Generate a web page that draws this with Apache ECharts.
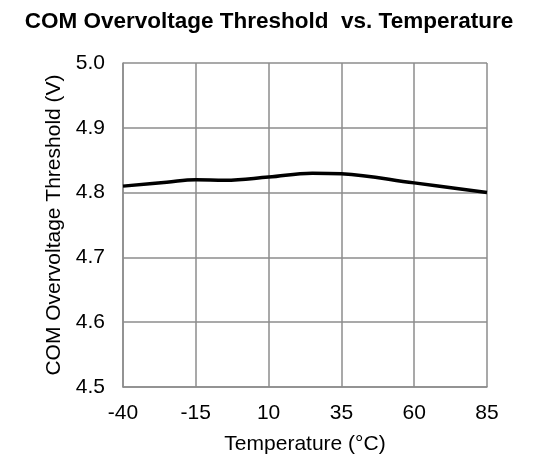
<!DOCTYPE html>
<html>
<head>
<meta charset="utf-8">
<script src="https://cdn.jsdelivr.net/npm/echarts@6/dist/echarts.min.js"></script>
<style>
  html, body { margin: 0; padding: 0; background: #fff; }
  #chart { width: 545px; height: 461px; }
</style>
</head>
<body>
<div id="chart"></div>
<script>
// Temperature (°C) and threshold (V)
const temps = [-40, -25, -15, -5, 10, 25, 35, 60, 85]
const threshold = [4.810, 4.816, 4.820, 4.819, 4.824, 4.830, 4.829, 4.815, 4.800]
const titleText = "COM Overvoltage Threshold  vs. Temperature"
const xName = "Temperature (°C)"
const yName = "COM Overvoltage Threshold (V)"

const chart = echarts.init(document.getElementById("chart"))
const font = "Liberation Sans, Arial, sans-serif"
const gridColor = "#8c8c8c"

chart.setOption({
  animation: false,
  title: {
    text: titleText,
    left: 264,
    textAlign: "center",
    top: 5,
    textStyle: { fontFamily: font, fontSize: 22.5, fontWeight: "bold", color: "#000" },
  },
  grid: { left: 123, right: 58, top: 63, bottom: 74 },
  xAxis: {
    type: "value",
    min: -40,
    max: 85,
    interval: 25,
    name: xName,
    nameLocation: "middle",
    nameGap: 47,
    nameTextStyle: { fontFamily: font, fontSize: 21, color: "#000" },
    axisLine: { show: true, onZero: false, lineStyle: { color: gridColor, width: 1.5 } },
    axisTick: { show: false },
    axisLabel: { fontFamily: font, fontSize: 21, color: "#000", margin: 16 },
    splitLine: { show: true, lineStyle: { color: gridColor, width: 1.5 } },
  },
  yAxis: {
    type: "value",
    min: 4.5,
    max: 5.0,
    interval: 0.1,
    name: yName,
    nameLocation: "middle",
    nameGap: 56,
    nameTextStyle: { fontFamily: font, fontSize: 21, color: "#000" },
    axisLine: { show: true, onZero: false, lineStyle: { color: gridColor, width: 1.5 } },
    axisTick: { show: false },
    axisLabel: {
      fontFamily: font, fontSize: 21, color: "#000", margin: 18,
      formatter: (v) => v.toFixed(1),
    },
    splitLine: { show: true, lineStyle: { color: gridColor, width: 1.5 } },
  },
  series: [
    {
      type: "line",
      data: temps.map((t, i) => [t, threshold[i]]),
      smooth: 0.4,
      showSymbol: false,
      lineStyle: { color: "#000", width: 3.5 },
    },
  ],
})
</script>
</body>
</html>
